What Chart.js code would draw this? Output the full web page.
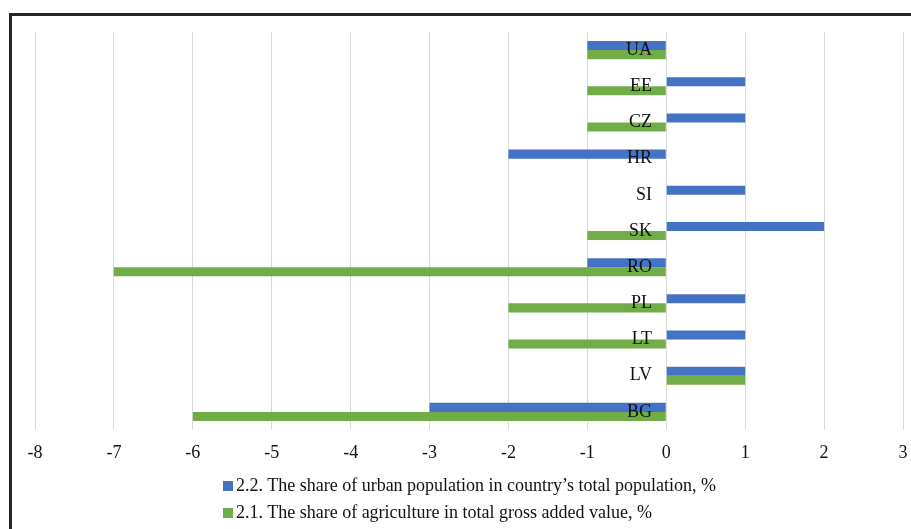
<!DOCTYPE html>
<html lang="en">
<head>
    <meta charset="UTF-8">
    <title>Urban population and agriculture share changes</title>
    <script src="https://cdn.jsdelivr.net/npm/chart.js"></script>
    <style>
        html, body { margin: 0; padding: 0; background: #fff; overflow: hidden; }
        .frame {
            position: absolute; left: 9px; top: 13px; width: 1000px; height: 1000px;
            border-top: 3px solid #262626; border-left: 3px solid #262626;
        }
        .chart-box { position: absolute; left: 0; top: 0; width: 911px; height: 529px; }
        .legend {
            position: absolute; left: 223px; top: 472px;
            font-family: "Liberation Serif", "Times New Roman", serif; font-size: 18px; color: #111;
        }
        .legend-item { height: 27px; line-height: 27px; white-space: nowrap; }
        .legend-item span {
            display: inline-block; width: 10px; height: 10px; margin-right: 3px; vertical-align: 0px;
        }
    </style>
</head>
<body>
    <div class="frame"></div>
    <div class="chart-box"><canvas id="chart" width="911" height="529"></canvas></div>
    <div class="legend" id="legend"></div>

    <script>
        const countries = ['UA', 'EE', 'CZ', 'HR', 'SI', 'SK', 'RO', 'PL', 'LT', 'LV', 'BG'];
        const urbanShare = [-1, 1, 1, -2, 1, 2, -1, 1, 1, 1, -3];
        const agricultureShare = [-1, -1, -1, 0, 0, -1, -7, -2, -2, 1, -6];
        const seriesNames = [
            '2.2. The share of urban population in country\u2019s total population, %',
            '2.1. The share of agriculture in total gross added value, %'
        ];
        const xMin = -8;
        const xMax = 3;

        const serif = 'Liberation Serif';

        const ctx = document.getElementById('chart').getContext('2d');
        const chart = new Chart(ctx, {
            type: 'bar',
            data: {
                labels: countries,
                datasets: [{
                    label: seriesNames[0],
                    data: urbanShare,
                    backgroundColor: '#4472C4'
                }, {
                    label: seriesNames[1],
                    data: agricultureShare,
                    backgroundColor: '#70AD47'
                }]
            },
            options: {
                indexAxis: 'y',
                responsive: false,
                animation: false,
                devicePixelRatio: 1,
                layout: { padding: { left: 35, right: 8, top: 32, bottom: 0 } },
                datasets: { bar: { categoryPercentage: 0.5, barPercentage: 1 } },
                plugins: {
                    legend: { display: false },
                    tooltip: { enabled: false }
                },
                scales: {
                    x: {
                        min: xMin,
                        max: xMax,
                        ticks: {
                            stepSize: 1,
                            padding: 12,
                            color: '#111',
                            font: { family: serif, size: 18 }
                        },
                        grid: { color: '#d9d9d9', drawTicks: false },
                        border: { display: false },
                        afterFit: (scale) => {
                            scale.height = 99;
                            scale.paddingLeft = 0;
                            scale.paddingRight = 0;
                        }
                    },
                    y: {
                        // labels sit just left of zero, drawn over the bars
                        position: { x: -0.18 },
                        ticks: {
                            z: 1,
                            color: '#111',
                            font: { family: serif, size: 18 }
                        },
                        grid: { display: false, drawTicks: false },
                        border: { display: false }
                    }
                }
            }
        });

        // legend built from the chart's own datasets
        const legendEl = document.getElementById('legend');
        chart.data.datasets.forEach(ds => {
            const row = document.createElement('div');
            row.className = 'legend-item';
            const sw = document.createElement('span');
            sw.style.background = ds.backgroundColor;
            row.appendChild(sw);
            row.appendChild(document.createTextNode(ds.label));
            legendEl.appendChild(row);
        });
    </script>
</body>
</html>
